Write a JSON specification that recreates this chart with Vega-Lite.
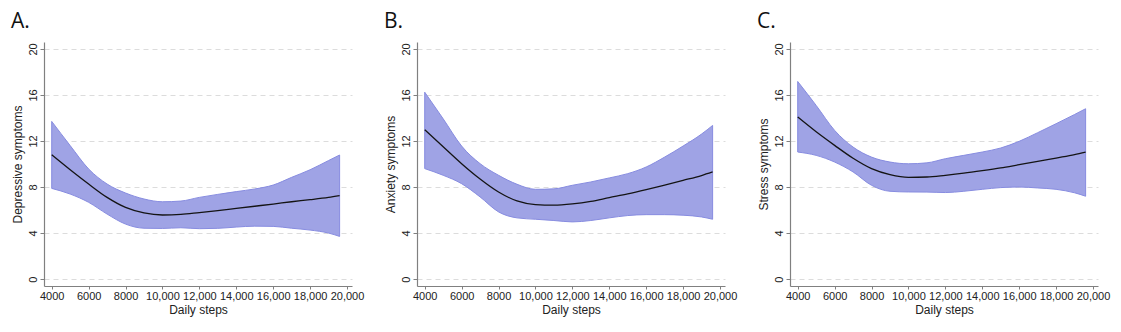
{
  "$schema": "https://vega.github.io/schema/vega-lite/v6.json",
  "padding": {"left": 11, "top": 11, "right": 5, "bottom": 5},
  "background": "white",
  "data": {"values": [
    {"panel":"A","steps":4000,"mean":10.8,"lo":7.88,"hi":13.7},
    {"panel":"A","steps":5000,"mean":9.5,"lo":7.39,"hi":11.6},
    {"panel":"A","steps":6000,"mean":8.26,"lo":6.67,"hi":9.57},
    {"panel":"A","steps":7000,"mean":7.1,"lo":5.65,"hi":8.26},
    {"panel":"A","steps":8000,"mean":6.23,"lo":4.78,"hi":7.48},
    {"panel":"A","steps":9000,"mean":5.75,"lo":4.42,"hi":6.96},
    {"panel":"A","steps":10000,"mean":5.57,"lo":4.4,"hi":6.72},
    {"panel":"A","steps":11000,"mean":5.62,"lo":4.46,"hi":6.78},
    {"panel":"A","steps":12000,"mean":5.78,"lo":4.38,"hi":7.1},
    {"panel":"A","steps":13000,"mean":5.95,"lo":4.41,"hi":7.36},
    {"panel":"A","steps":14000,"mean":6.14,"lo":4.52,"hi":7.6},
    {"panel":"A","steps":15000,"mean":6.33,"lo":4.6,"hi":7.83},
    {"panel":"A","steps":16000,"mean":6.52,"lo":4.58,"hi":8.17},
    {"panel":"A","steps":17000,"mean":6.72,"lo":4.42,"hi":8.84},
    {"panel":"A","steps":18000,"mean":6.9,"lo":4.26,"hi":9.5},
    {"panel":"A","steps":19000,"mean":7.1,"lo":4.0,"hi":10.3},
    {"panel":"A","steps":19600,"mean":7.25,"lo":3.71,"hi":10.78},
    {"panel":"B","steps":4000,"mean":12.98,"lo":9.6,"hi":16.24},
    {"panel":"B","steps":5000,"mean":11.5,"lo":9.02,"hi":13.93},
    {"panel":"B","steps":6000,"mean":10.03,"lo":8.29,"hi":11.56},
    {"panel":"B","steps":7000,"mean":8.7,"lo":7.14,"hi":10.03},
    {"panel":"B","steps":8000,"mean":7.57,"lo":5.84,"hi":9.02},
    {"panel":"B","steps":9000,"mean":6.79,"lo":5.32,"hi":8.24},
    {"panel":"B","steps":10000,"mean":6.47,"lo":5.2,"hi":7.8},
    {"panel":"B","steps":11000,"mean":6.42,"lo":5.09,"hi":7.84},
    {"panel":"B","steps":12000,"mean":6.53,"lo":4.97,"hi":8.15},
    {"panel":"B","steps":13000,"mean":6.75,"lo":5.09,"hi":8.44},
    {"panel":"B","steps":14000,"mean":7.08,"lo":5.32,"hi":8.79},
    {"panel":"B","steps":15000,"mean":7.4,"lo":5.52,"hi":9.16},
    {"panel":"B","steps":16000,"mean":7.77,"lo":5.6,"hi":9.74},
    {"panel":"B","steps":17000,"mean":8.17,"lo":5.6,"hi":10.6},
    {"panel":"B","steps":18000,"mean":8.58,"lo":5.55,"hi":11.56},
    {"panel":"B","steps":19000,"mean":9.0,"lo":5.4,"hi":12.6},
    {"panel":"B","steps":19600,"mean":9.31,"lo":5.2,"hi":13.35},
    {"panel":"C","steps":4000,"mean":14.08,"lo":11.04,"hi":17.17},
    {"panel":"C","steps":5000,"mean":12.8,"lo":10.75,"hi":15.09},
    {"panel":"C","steps":6000,"mean":11.62,"lo":10.17,"hi":12.92},
    {"panel":"C","steps":7000,"mean":10.5,"lo":9.31,"hi":11.47},
    {"panel":"C","steps":8000,"mean":9.6,"lo":8.15,"hi":10.6},
    {"panel":"C","steps":9000,"mean":9.08,"lo":7.63,"hi":10.17},
    {"panel":"C","steps":10000,"mean":8.84,"lo":7.57,"hi":10.02},
    {"panel":"C","steps":11000,"mean":8.87,"lo":7.56,"hi":10.1},
    {"panel":"C","steps":12000,"mean":9.02,"lo":7.52,"hi":10.46},
    {"panel":"C","steps":13000,"mean":9.2,"lo":7.63,"hi":10.75},
    {"panel":"C","steps":14000,"mean":9.42,"lo":7.8,"hi":11.04},
    {"panel":"C","steps":15000,"mean":9.66,"lo":7.95,"hi":11.39},
    {"panel":"C","steps":16000,"mean":9.94,"lo":8.0,"hi":11.97},
    {"panel":"C","steps":17000,"mean":10.22,"lo":7.92,"hi":12.72},
    {"panel":"C","steps":18000,"mean":10.52,"lo":7.8,"hi":13.5},
    {"panel":"C","steps":19000,"mean":10.82,"lo":7.5,"hi":14.3},
    {"panel":"C","steps":19600,"mean":11.04,"lo":7.2,"hi":14.8}
  ]},
  "spacing": 20,
  "hconcat": [
    {
      "width": 308, "height": 244,
      "title": {"text": "A.", "anchor": "start", "frame": "group", "dx": -33, "offset": 10},
      "transform": [{"filter": "datum.panel === 'A'"}],
      "encoding": {
        "x": {"field": "steps", "type": "quantitative", "scale": {"domain": [3582, 20271], "nice": false, "zero": false},
              "axis": {"values": [4000,6000,8000,10000,12000,14000,16000,18000,20000], "labelExpr": "datum.value >= 10000 ? format(datum.value, ',') : format(datum.value, 'd')", "title": "Daily steps", "grid": false}}
      },
      "layer": [
        {"mark": {"type": "area", "interpolate": "monotone", "fill": "#9fa3e5", "stroke": "#878ce0", "strokeWidth": 1, "opacity": 1},
         "encoding": {"y": {"field": "hi", "type": "quantitative", "scale": {"domain": [-0.6, 20.6], "nice": false},
                            "axis": {"values": [0,4,8,12,16,20], "title": "Depressive symptoms"}},
                      "y2": {"field": "lo"}}},
        {"mark": {"type": "line", "interpolate": "monotone", "color": "#141414", "strokeWidth": 1.3},
         "encoding": {"y": {"field": "mean", "type": "quantitative"}}}
      ]
    },
    {
      "width": 308, "height": 244,
      "title": {"text": "B.", "anchor": "start", "frame": "group", "dx": -33, "offset": 10},
      "transform": [{"filter": "datum.panel === 'B'"}],
      "encoding": {
        "x": {"field": "steps", "type": "quantitative", "scale": {"domain": [3582, 20271], "nice": false, "zero": false},
              "axis": {"values": [4000,6000,8000,10000,12000,14000,16000,18000,20000], "labelExpr": "datum.value >= 10000 ? format(datum.value, ',') : format(datum.value, 'd')", "title": "Daily steps", "grid": false}}
      },
      "layer": [
        {"mark": {"type": "area", "interpolate": "monotone", "fill": "#9fa3e5", "stroke": "#878ce0", "strokeWidth": 1, "opacity": 1},
         "encoding": {"y": {"field": "hi", "type": "quantitative", "scale": {"domain": [-0.6, 20.6], "nice": false},
                            "axis": {"values": [0,4,8,12,16,20], "title": "Anxiety symptoms"}},
                      "y2": {"field": "lo"}}},
        {"mark": {"type": "line", "interpolate": "monotone", "color": "#141414", "strokeWidth": 1.3},
         "encoding": {"y": {"field": "mean", "type": "quantitative"}}}
      ]
    },
    {
      "width": 308, "height": 244,
      "title": {"text": "C.", "anchor": "start", "frame": "group", "dx": -33, "offset": 10},
      "transform": [{"filter": "datum.panel === 'C'"}],
      "encoding": {
        "x": {"field": "steps", "type": "quantitative", "scale": {"domain": [3582, 20271], "nice": false, "zero": false},
              "axis": {"values": [4000,6000,8000,10000,12000,14000,16000,18000,20000], "labelExpr": "datum.value >= 10000 ? format(datum.value, ',') : format(datum.value, 'd')", "title": "Daily steps", "grid": false}}
      },
      "layer": [
        {"mark": {"type": "area", "interpolate": "monotone", "fill": "#9fa3e5", "stroke": "#878ce0", "strokeWidth": 1, "opacity": 1},
         "encoding": {"y": {"field": "hi", "type": "quantitative", "scale": {"domain": [-0.6, 20.6], "nice": false},
                            "axis": {"values": [0,4,8,12,16,20], "title": "Stress symptoms"}},
                      "y2": {"field": "lo"}}},
        {"mark": {"type": "line", "interpolate": "monotone", "color": "#141414", "strokeWidth": 1.3},
         "encoding": {"y": {"field": "mean", "type": "quantitative"}}}
      ]
    }
  ],
  "config": {
    "view": {"stroke": null},
    "title": {"font": "Open Sans", "fontSize": 21, "fontWeight": "normal", "color": "#111111"},
    "axis": {
      "labelFont": "Liberation Sans", "titleFont": "Liberation Sans",
      "labelFontSize": 11, "titleFontSize": 12, "titleFontWeight": "normal",
      "labelColor": "#222222", "titleColor": "#222222",
      "domainColor": "#808080", "tickColor": "#808080", "tickSize": 4, "domainWidth": 1.2
    },
    "axisX": {"tickSize": 3, "labelPadding": 1, "titlePadding": 3},
    "axisY": {"labelAngle": -90, "labelAlign": "center", "labelBaseline": "bottom", "labelPadding": 2, "titlePadding": 3,
              "grid": true, "gridDash": [5, 4], "gridColor": "#dcdcdc", "gridWidth": 1}
  }
}
